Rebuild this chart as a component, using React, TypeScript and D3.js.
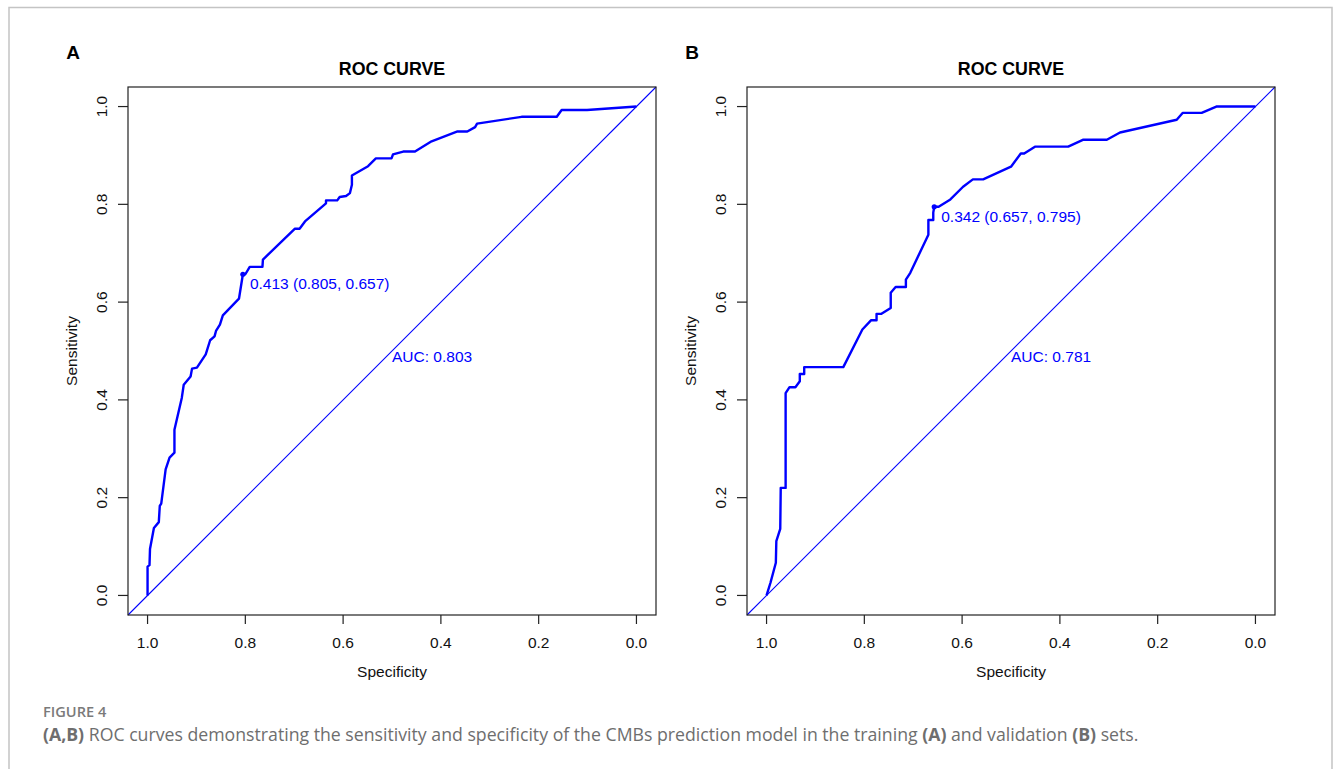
import React from "react";
import * as d3 from "d3";

const ticks = [1.0, 0.8, 0.6, 0.4, 0.2, 0.0];
const tickLabels = ["1.0", "0.8", "0.6", "0.4", "0.2", "0.0"];

const specA = [1.0, 1.0, 0.996, 0.995, 0.987, 0.977, 0.975, 0.972, 0.963, 0.955, 0.945, 0.945, 0.93, 0.926, 0.912, 0.909, 0.899, 0.881, 0.872, 0.863, 0.86, 0.852, 0.846, 0.813, 0.805, 0.8, 0.791, 0.765, 0.764, 0.699, 0.689, 0.678, 0.635, 0.635, 0.612, 0.607, 0.594, 0.586, 0.582, 0.582, 0.549, 0.533, 0.501, 0.498, 0.477, 0.453, 0.419, 0.366, 0.346, 0.33, 0.326, 0.235, 0.163, 0.153, 0.101, 0.0];
const sensA = [0.0, 0.059, 0.062, 0.095, 0.138, 0.15, 0.183, 0.188, 0.258, 0.282, 0.292, 0.339, 0.404, 0.431, 0.448, 0.464, 0.466, 0.493, 0.522, 0.53, 0.541, 0.554, 0.573, 0.607, 0.657, 0.657, 0.672, 0.672, 0.687, 0.75, 0.75, 0.765, 0.802, 0.808, 0.808, 0.815, 0.817, 0.823, 0.84, 0.859, 0.878, 0.894, 0.894, 0.902, 0.908, 0.908, 0.929, 0.949, 0.949, 0.958, 0.965, 0.979, 0.979, 0.993, 0.993, 1.0];

const specB = [1.0, 0.992, 0.981, 0.98, 0.972, 0.971, 0.961, 0.961, 0.953, 0.941, 0.932, 0.932, 0.923, 0.923, 0.843, 0.804, 0.786, 0.775, 0.775, 0.765, 0.746, 0.746, 0.736, 0.715, 0.715, 0.706, 0.669, 0.669, 0.659, 0.659, 0.657, 0.648, 0.624, 0.598, 0.578, 0.557, 0.5, 0.48, 0.473, 0.451, 0.383, 0.353, 0.304, 0.277, 0.161, 0.149, 0.11, 0.08, 0.0];
const sensB = [0.0, 0.026, 0.067, 0.111, 0.136, 0.22, 0.22, 0.414, 0.426, 0.426, 0.438, 0.453, 0.453, 0.467, 0.467, 0.544, 0.563, 0.563, 0.576, 0.576, 0.588, 0.619, 0.631, 0.631, 0.646, 0.66, 0.738, 0.768, 0.768, 0.783, 0.795, 0.795, 0.81, 0.836, 0.851, 0.851, 0.877, 0.904, 0.904, 0.918, 0.918, 0.932, 0.932, 0.947, 0.973, 0.987, 0.987, 1.0, 1.0];

const panels = [
  { letter: "A", left: 128, spec: specA, sens: sensA, thr: "0.413", ts: 0.805, tse: 0.657, auc: "0.803" },
  { letter: "B", left: 747, spec: specB, sens: sensB, thr: "0.342", ts: 0.657, tse: 0.795, auc: "0.781" },
];

const BLUE = "#0000ff";
const FONT = "'Liberation Sans', Arial, sans-serif";
const FS = 15.5;

function Panel({ p }: { p: typeof panels[number] }) {
  const W = 528;
  const top = 87;
  const H = 528;
  const x = d3.scaleLinear().domain([1.04, -0.04]).range([p.left, p.left + W]);
  const y = d3.scaleLinear().domain([-0.04, 1.04]).range([top + H, top]);
  const pts: [number, number][] = p.spec.map((s, i) => [s, p.sens[i]]);
  const line = d3.line<[number, number]>().x((d) => x(d[0])).y((d) => y(d[1]));
  const cx = (p.left + p.left + W) / 2;
  return (
    <g>
      <text x={p.left - 55} y={59} fontFamily={FONT} fontWeight="bold" fontSize={19} textAnchor="middle">{p.letter}</text>
      <text x={cx} y={75} fontFamily={FONT} fontWeight="bold" fontSize={17.8} textAnchor="middle">ROC CURVE</text>
      <line x1={x(1.04)} y1={y(-0.04)} x2={x(-0.04)} y2={y(1.04)} stroke={BLUE} strokeWidth={1.1} />
      <path d={line(pts) || ""} fill="none" stroke={BLUE} strokeWidth={2.4} strokeLinejoin="round" />
      <circle cx={x(p.ts)} cy={y(p.tse)} r={2.6} fill={BLUE} />
      <text x={x(p.ts) + 7} y={y(p.tse) + 15} fontFamily={FONT} fontSize={FS} fill={BLUE}>
        {`${p.thr} (${p.ts.toFixed(3)}, ${p.tse.toFixed(3)})`}
      </text>
      <text x={x(0.5)} y={y(0.5) + 11} fontFamily={FONT} fontSize={FS} fill={BLUE}>{`AUC: ${p.auc}`}</text>
      <rect x={p.left} y={top} width={W} height={H} fill="none" stroke="#222" strokeWidth={1.2} />
      {ticks.map((t, i) => (
        <g key={"x" + i}>
          <line x1={x(t)} x2={x(t)} y1={top + H} y2={top + H + 9} stroke="#222" strokeWidth={1.2} />
          <text x={x(t)} y={648} fontFamily={FONT} fontSize={FS} textAnchor="middle" fill="#111">{tickLabels[i]}</text>
          <line x1={p.left - 10} x2={p.left} y1={y(t)} y2={y(t)} stroke="#222" strokeWidth={1.2} />
          <text transform={`translate(${p.left - 21},${y(t)}) rotate(-90)`} fontFamily={FONT} fontSize={FS} textAnchor="middle" fill="#111">{tickLabels[i]}</text>
        </g>
      ))}
      <text x={cx} y={677} fontFamily={FONT} fontSize={FS} textAnchor="middle" fill="#111">Specificity</text>
      <text transform={`translate(${p.left - 51},${top + H / 2}) rotate(-90)`} fontFamily={FONT} fontSize={FS} textAnchor="middle" fill="#111">Sensitivity</text>
    </g>
  );
}

export default function App() {
  return (
    <svg width={1333} height={769} style={{ position: "absolute", left: 0, top: 0, background: "#fff" }}>
      <rect x={0} y={0} width={1333} height={769} fill="#fff" />
      <path d="M9,769 V7.5 H1332 V769" fill="none" stroke="#c4c4c4" strokeWidth={1.5} />
      {panels.map((p) => (
        <Panel key={p.letter} p={p} />
      ))}
      <text x={43} y={717} fontFamily="'Open Sans', 'Noto Sans', sans-serif" fontSize={14.6} fontWeight={600} fill="#7a7a7a">FIGURE 4</text>
      <text x={43} y={741} fontFamily="'Open Sans', 'Noto Sans', sans-serif" fontSize={17.7} fill="#6e6e6e">
        <tspan fontWeight={700}>(A,B)</tspan>
        <tspan> ROC curves demonstrating the sensitivity and specificity of the CMBs prediction model in the training </tspan>
        <tspan fontWeight={700}>(A)</tspan>
        <tspan> and validation </tspan>
        <tspan fontWeight={700}>(B)</tspan>
        <tspan> sets.</tspan>
      </text>
    </svg>
  );
}
